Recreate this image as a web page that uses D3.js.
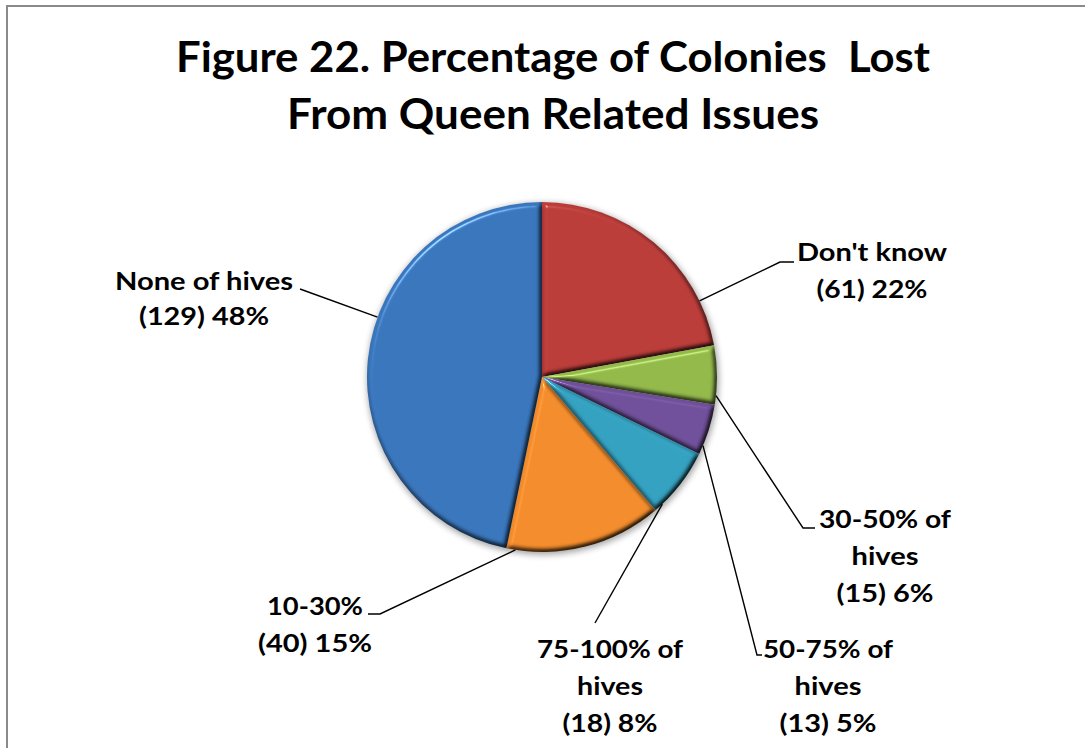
<!DOCTYPE html>
<html>
<head>
<meta charset="utf-8">
<script src="https://cdn.jsdelivr.net/npm/d3@7/dist/d3.min.js"></script>
<style>
  html, body { margin: 0; padding: 0; background: #ffffff; }
  svg { display: block; }
  text { font-family: "Lato", "Open Sans", sans-serif; font-weight: 700; fill: #000; white-space: pre; }
</style>
</head>
<body>
<svg id="chart" width="1085" height="748"></svg>
<script>
// ---- data ----
const categories = ["Don't know", "30-50% of hives", "50-75% of hives", "75-100% of hives", "10-30%", "None of hives"];
const categoryLines = [["Don't know"], ["30-50% of", "hives"], ["50-75% of", "hives"], ["75-100% of", "hives"], ["10-30%"], ["None of hives"]];
const counts = [61, 15, 13, 18, 40, 129];
const percentLabels = ["22%", "6%", "5%", "8%", "15%", "48%"];
const titleLines = ["Figure 22. Percentage of Colonies  Lost", "From Queen Related Issues"];

// ---- colours (top / bottom of the vertical shading) ----
const sliceTop    = ["#bb3d3a", "#93b94b", "#70509a", "#34a1c0", "#f28c2c", "#3a76bc"];
const sliceBottom = ["#9a2d2b", "#6f9433", "#553a80", "#26809c", "#cd6d1f", "#30609f"];

// ---- layout ----
const W = 1085, H = 748;
const cx = 542, cy = 377, R = 175;
const lineGap = 37;
// label block: centre x, first baseline, text widths per line, elbow and line start
const labelLayout = [
  { x: 872, y: 261, widths: [150, 111],      elbow: [780, 262], end: [794, 262] },
  { x: 885, y: 528, widths: [132, 67, 97],   elbow: [803, 528], end: [815, 528] },
  { x: 828, y: 658, widths: [130, 67, 97],   elbow: [757, 655], end: [762, 655] },
  { x: 610, y: 658, widths: [146, 66, 95],   elbow: [595, 623], end: [595, 623] },
  { x: 315, y: 615, widths: [96, 114],       elbow: [380, 614], end: [368, 614] },
  { x: 204, y: 290, widths: [178, 130],      elbow: [300, 289], end: [300, 289], gap: 35 }
];

const svg = d3.select("#chart");
const defs = svg.append("defs");

// chart area frame
svg.append("rect")
  .attr("x", 7).attr("y", 6).attr("width", W + 40).attr("height", H + 40)
  .attr("fill", "#fff").attr("stroke", "#8a8a8a").attr("stroke-width", 2);

// title
svg.append("g").selectAll("text")
  .data(titleLines)
  .join("text")
  .attr("x", 553)
  .attr("y", (d, i) => 72 + i * 57)
  .attr("text-anchor", "middle")
  .attr("font-size", 42)
  .attr("textLength", (d, i) => [754, 532][i])
  .attr("lengthAdjust", "spacingAndGlyphs")
  .text(d => d);

// vertical shading per slice colour
categories.forEach((c, i) => {
  const g = defs.append("linearGradient")
    .attr("id", "grad" + i)
    .attr("gradientUnits", "userSpaceOnUse")
    .attr("x1", 0).attr("y1", cy - R).attr("x2", 0).attr("y2", cy + R);
  g.append("stop").attr("offset", "0%").attr("stop-color", sliceTop[i]);
  g.append("stop").attr("offset", "100%").attr("stop-color", sliceBottom[i]);
});

// bevel: darken edges facing away from the light, add a highlight on lit edges
const bevel = defs.append("filter").attr("id", "bevel")
  .attr("color-interpolation-filters", "sRGB")
  .attr("x", "-5%").attr("y", "-5%").attr("width", "110%").attr("height", "110%");
bevel.append("feGaussianBlur").attr("in", "SourceAlpha").attr("stdDeviation", 2.8).attr("result", "blur");
const diff = bevel.append("feDiffuseLighting").attr("in", "blur")
  .attr("surfaceScale", 4).attr("diffuseConstant", 1.155)
  .attr("lighting-color", "#ffffff").attr("result", "diff");
diff.append("feDistantLight").attr("azimuth", 235).attr("elevation", 60);
bevel.append("feComposite").attr("in", "SourceGraphic").attr("in2", "diff")
  .attr("operator", "arithmetic").attr("k1", 1).attr("k2", 0).attr("k3", 0).attr("k4", 0)
  .attr("result", "shaded");
const spec = bevel.append("feSpecularLighting").attr("in", "blur")
  .attr("surfaceScale", 4).attr("specularConstant", 0.45).attr("specularExponent", 60)
  .attr("lighting-color", "#ffffff").attr("result", "spec");
spec.append("feDistantLight").attr("azimuth", 235).attr("elevation", 45);
bevel.append("feComposite").attr("in", "spec").attr("in2", "SourceAlpha")
  .attr("operator", "in").attr("result", "specIn");
bevel.append("feComposite").attr("in", "shaded").attr("in2", "specIn")
  .attr("operator", "arithmetic").attr("k1", 0).attr("k2", 1).attr("k3", 1).attr("k4", 0);

// soft shadow under the pie
const shadow = defs.append("filter").attr("id", "shadow")
  .attr("x", "-10%").attr("y", "-10%").attr("width", "120%").attr("height", "120%");
shadow.append("feGaussianBlur").attr("stdDeviation", 3);

// ---- pie ----
const pie = d3.pie().sort(null).value(d => d).startAngle(0).endAngle(2 * Math.PI);
const arcs = pie(counts);
const arc = d3.arc().innerRadius(0).outerRadius(R);

const pieG = svg.append("g").attr("transform", `translate(${cx},${cy})`);
pieG.append("path")
  .attr("d", d3.arc().innerRadius(0).outerRadius(R + 1).startAngle(0).endAngle(2 * Math.PI)())
  .attr("transform", "translate(1,2)")
  .attr("fill", "#000").attr("opacity", 0.35)
  .attr("filter", "url(#shadow)");

pieG.selectAll("path.slice")
  .data(arcs)
  .join("path")
  .attr("class", "slice")
  .attr("d", arc)
  .attr("fill", (d, i) => `url(#grad${i})`)
  .attr("filter", "url(#bevel)");

// ---- leader lines and labels ----
function rimPoint(a) {
  return [cx + R * Math.sin(a), cy - R * Math.cos(a)];
}
const leaders = svg.append("g").attr("fill", "none").attr("stroke", "#000").attr("stroke-width", 1.4);
arcs.forEach((d, i) => {
  const L = labelLayout[i];
  // attach on the rim of the slice, on the side facing the label
  let a = Math.atan2(L.elbow[0] - cx, -(L.elbow[1] - cy));
  if (a < 0) a += 2 * Math.PI;
  const m = Math.min(3 * Math.PI / 180, (d.endAngle - d.startAngle) / 4);
  a = Math.max(d.startAngle + m, Math.min(d.endAngle - m, a));
  const p = rimPoint(a);
  leaders.append("path")
    .attr("d", d3.line()([p, L.elbow, L.end]));
});

const labels = svg.append("g");
categories.forEach((c, i) => {
  const L = labelLayout[i];
  const lines = categoryLines[i].concat([`(${counts[i]}) ${percentLabels[i]}`]);
  const gap = L.gap || lineGap;
  labels.append("g").selectAll("text")
    .data(lines)
    .join("text")
    .attr("x", L.x)
    .attr("y", (t, j) => L.y + j * gap)
    .attr("text-anchor", "middle")
    .attr("font-size", 25)
    .attr("textLength", (t, j) => L.widths[j])
    .attr("lengthAdjust", "spacingAndGlyphs")
    .text(t => t);
});
</script>
</body>
</html>
